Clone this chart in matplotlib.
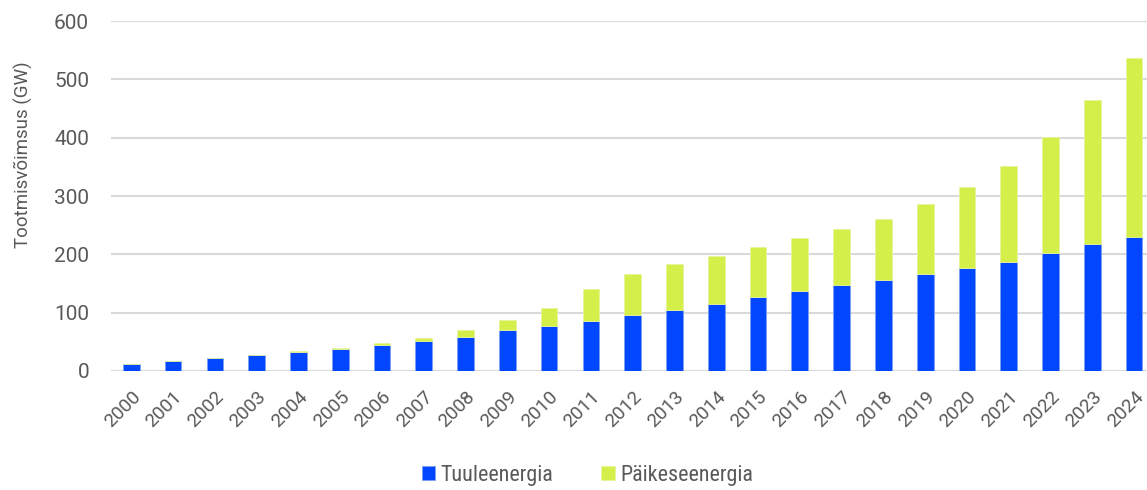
import matplotlib.pyplot as plt
import numpy as np

aastad = [str(a) for a in range(2000, 2025)]
tuul = [12, 17, 22, 27, 33, 38, 45, 52, 59, 70, 77, 86, 96, 104, 114, 126, 137, 147,
        156, 166, 177, 187, 203, 218, 230]
kokku = [12, 17, 22, 27, 34, 40, 48, 57, 70, 87, 108, 140, 167, 184, 197, 213, 228, 243,
         261, 286, 316, 352, 401, 465, 536]
paike = [k - t for k, t in zip(kokku, tuul)]

sinine = "#0047FF"
roheline = "#D4EF4A"
hall = "#595959"
kitsas = ["Roboto Condensed", "Liberation Sans Narrow", "Roboto", "DejaVu Sans"]

plt.rcParams['font.family'] = ["Roboto", "DejaVu Sans"]

fig = plt.figure(figsize=(11.47, 4.9), dpi=100)
ax = fig.add_axes([0.097, 0.243, 0.903, 0.714])

x = np.arange(len(aastad))
ax.bar(x, tuul, width=0.4, color=sinine, edgecolor="#7FA0F0", linewidth=0.6, label="Tuuleenergia", zorder=3)
ax.bar(x, paike, width=0.4, bottom=tuul, color=roheline, edgecolor="#E6F59A", linewidth=0.6,
       label="Päikeseenergia", zorder=3)

ax.set_ylim(0, 600)
ax.set_xlim(-0.48, 24.31)
ax.set_yticks(range(0, 601, 100))
ax.yaxis.grid(True, color="#D9D9D9", linewidth=1.5, zorder=0)
for s in ax.spines.values():
    s.set_visible(False)
ax.tick_params(length=0)
ax.tick_params(axis="y", labelsize=15, labelcolor=hall, pad=16)
ax.set_xticks(x)
ax.set_xticklabels(aastad, rotation=45, ha="right", rotation_mode="anchor",
                   fontsize=13.8, color=hall)
ax.tick_params(axis="x", pad=12)
ax.set_ylabel("Tootmisvõimsus (GW)", fontsize=13.5, color=hall)
ax.yaxis.set_label_coords(-0.076, 0.617)

fig.legend(loc="lower center", bbox_to_anchor=(0.512, -0.032), ncol=2, frameon=False,
           prop={"family": kitsas, "size": 15.8},
           labelcolor=hall, handlelength=0.6, handleheight=0.6, handletextpad=0.25, columnspacing=2.2)

fig.savefig("out.png", dpi=100)
